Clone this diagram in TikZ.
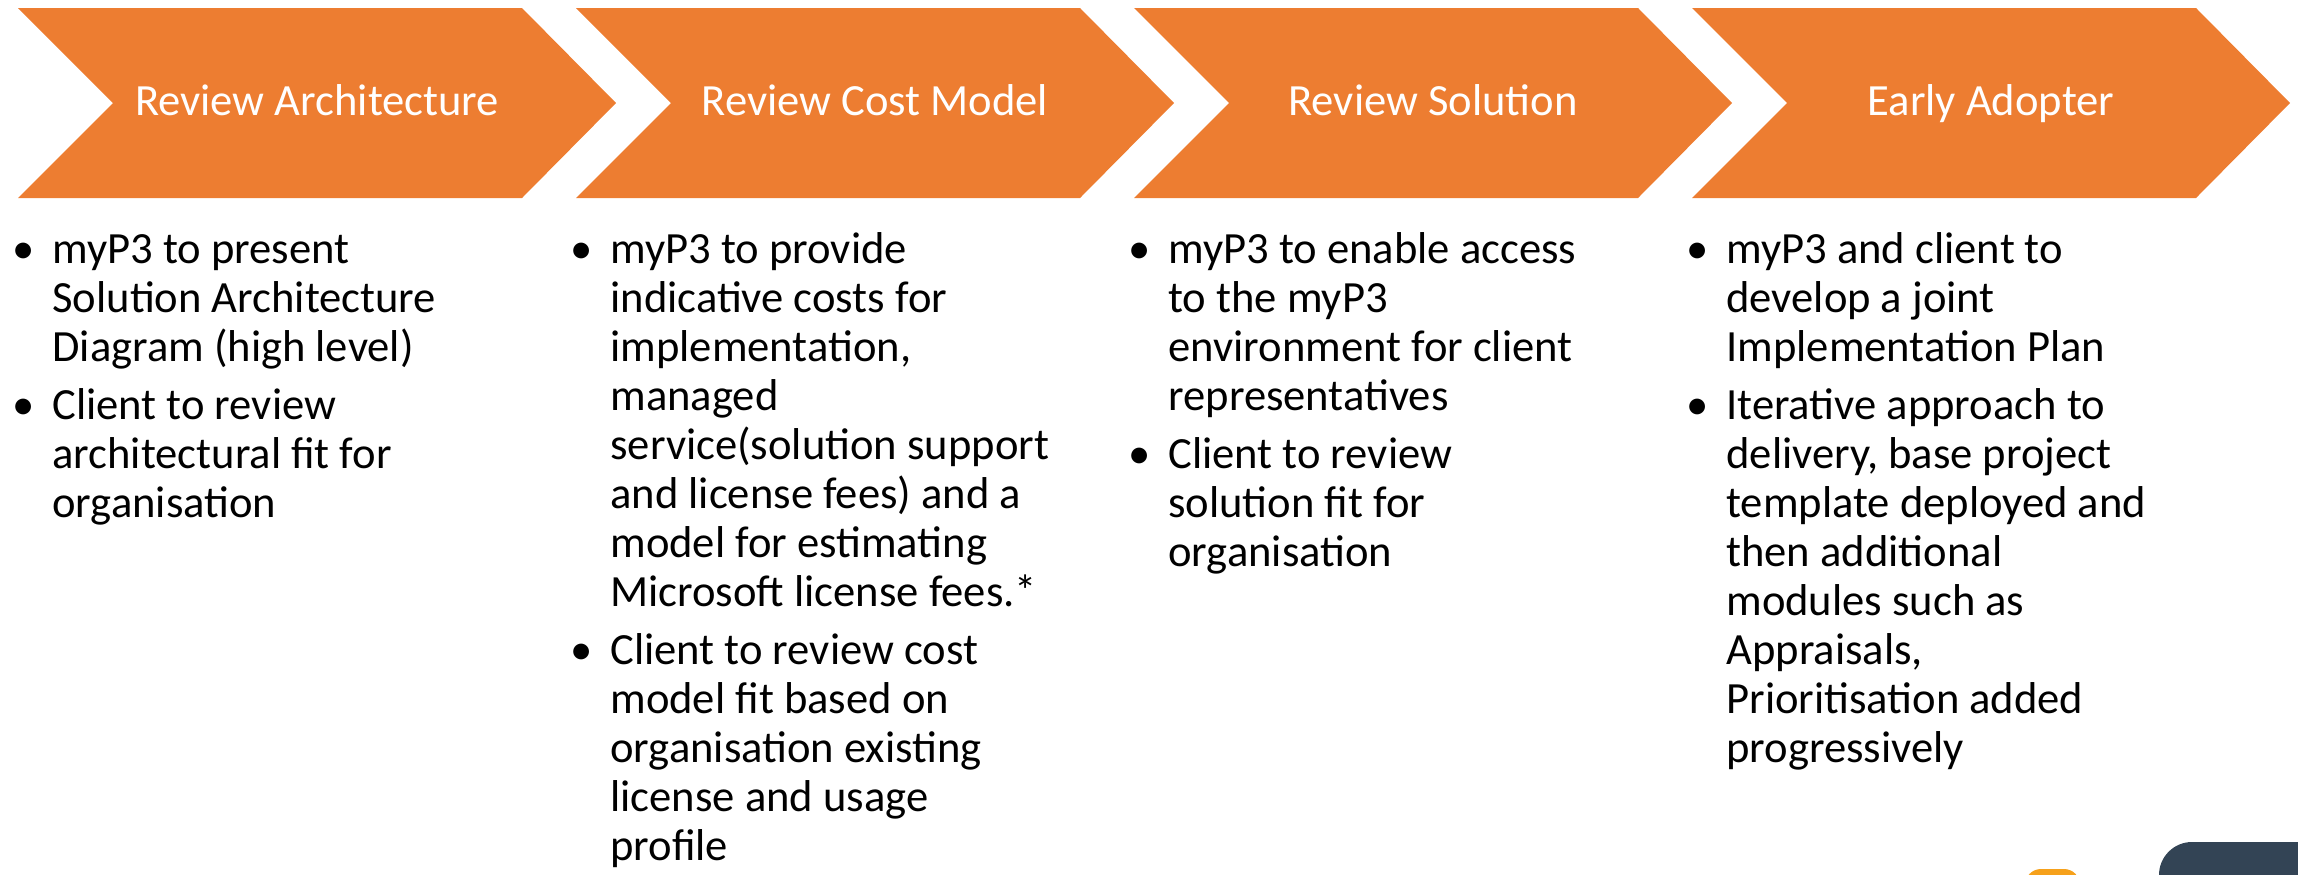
\documentclass[tikz,border=0pt]{standalone}
\usepackage{fontspec}
\setmainfont{Carlito}
\usetikzlibrary{positioning}

\definecolor{chevorange}{HTML}{ED7D31}
\definecolor{logodark}{HTML}{334455}
\definecolor{logoorange}{HTML}{F6A11B}

\newcommand{\bul}{\makebox[15pt][l]{\hspace*{-5pt}\textbullet}}

\tikzset{
  chevron/.style={fill=chevorange},
  steplabel/.style={text=white,inner sep=0pt,anchor=base,
    font=\fontsize{22.3pt}{24pt}\selectfont},
  bullets/.style={anchor=base west,inner sep=0pt,
    font=\fontsize{22.3pt}{24.5pt}\selectfont},
}

\begin{document}
\begin{tikzpicture}[x=0.5pt,y=-0.5pt]
\useasboundingbox (0,0) rectangle (2298,874);

% the four steps
\foreach \i/\txt in {0/Review Architecture,1/Review Cost Model,2/Review Solution,3/Early Adopter}{
  \pgfmathsetmacro\xl{18+558*\i}
  \fill[chevron] (\xl,8) -- ++(504,0) -- ++(94,95) -- ++(-94,95) -- ++(-504,0) -- ++(95,-95) -- cycle;
  \node[steplabel] (s\i) at (\xl+299,115) {\txt};
}

% bullet text under each step
\node[bullets] (b0) at (22,263) {\begin{tabular}[t]{@{}l@{}l@{}}
\bul & myP3 to present\\
 & Solution Architecture\\
 & Diagram (high level)\\[4.5pt]
\bul & Client to review\\
 & architectural fit for\\
 & organisation
\end{tabular}};

\node[bullets] (b1) at (580,263) {\begin{tabular}[t]{@{}l@{}l@{}}
\bul & myP3 to provide\\
 & indicative costs for\\
 & implementation,\\
 & managed\\
 & service(solution support\\
 & and license fees) and a\\
 & model for estimating\\
 & Microsoft license fees.*\\[4.5pt]
\bul & Client to review cost\\
 & model fit based on\\
 & organisation existing\\
 & license and usage\\
 & profile
\end{tabular}};

\node[bullets] (b2) at (1138,263) {\begin{tabular}[t]{@{}l@{}l@{}}
\bul & myP3 to enable access\\
 & to the myP3\\
 & environment for client\\
 & representatives\\[4.5pt]
\bul & Client to review\\
 & solution fit for\\
 & organisation
\end{tabular}};

\node[bullets] (b3) at (1696,263) {\begin{tabular}[t]{@{}l@{}l@{}}
\bul & myP3 and client to\\
 & develop a joint\\
 & Implementation Plan\\[4.5pt]
\bul & Iterative approach to\\
 & delivery, base project\\
 & template deployed and\\
 & then additional\\
 & modules such as\\
 & Appraisals,\\
 & Prioritisation added\\
 & progressively
\end{tabular}};

% logo corner, cut off by the page edge
\begin{scope}
  \clip (0,0) rectangle (2298,874);
  \fill[logoorange,rounded corners=8pt] (2025,869) rectangle (2080,920);
  \fill[logodark,rounded corners=16.5pt] (2159,842) rectangle (2360,940);
\end{scope}
\end{tikzpicture}
\end{document}
